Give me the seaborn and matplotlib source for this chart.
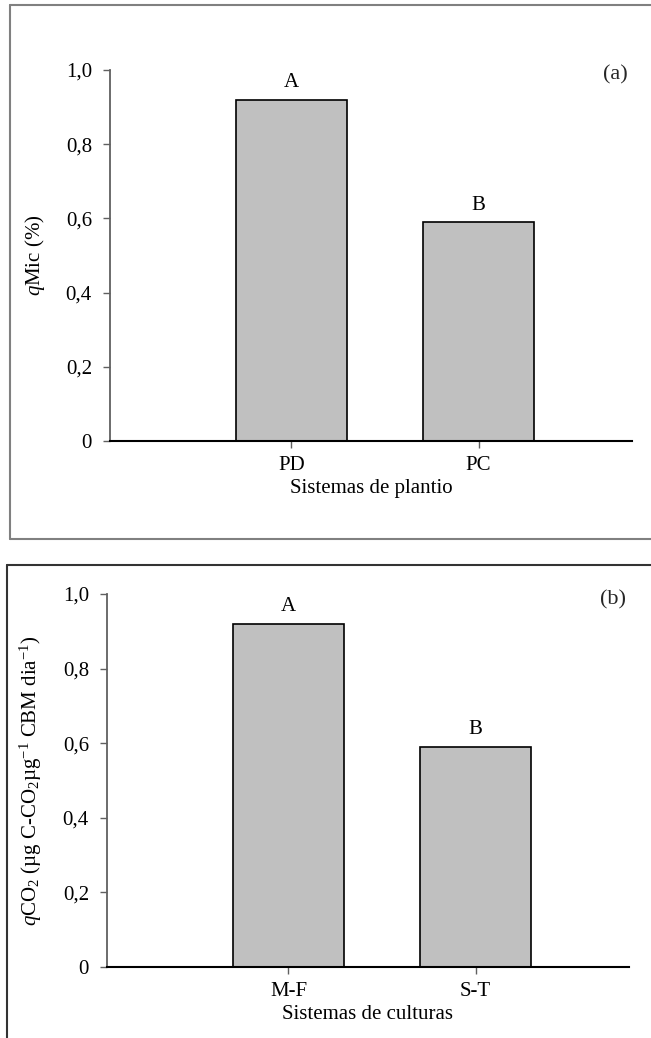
import matplotlib
matplotlib.use("Agg")
import matplotlib.pyplot as plt
import seaborn as sns
import pandas as pd
from matplotlib.lines import Line2D

# ---- data ----
cats_a = ["PD", "PC"]
vals_a = [0.92, 0.59]
letters_a = ["A", "B"]

cats_b = ["M-F", "S-T"]
vals_b = [0.92, 0.59]
letters_b = ["A", "B"]

yticks = [0, 0.2, 0.4, 0.6, 0.8, 1.0]
ytick_labels = ["0", "0,2", "0,4", "0,6", "0,8", "1,0"]

xlabel_a = "Sistemas de plantio"
xlabel_b = "Sistemas de culturas"
ylabel_a = r"$\it{q}$Mic (%)"
ylabel_b = r"$\it{q}$CO$_2$ (µg C-CO$_2$µg$^{\mathrm{-1}}$ CBM dia$^{\mathrm{-1}}$)"

# ---- style ----
sns.set_theme(style="white")
plt.rcParams["font.family"] = ["Liberation Serif", "DejaVu Serif"]
plt.rcParams["mathtext.fontset"] = "custom"
plt.rcParams["mathtext.rm"] = "Liberation Serif"
plt.rcParams["mathtext.it"] = "Liberation Serif:italic"
plt.rcParams["mathtext.bf"] = "Liberation Serif:bold"

FS = 15
W, H = 651, 1038
fig = plt.figure(figsize=(W / 100, H / 100), dpi=100)
fig.patch.set_facecolor("white")

ax1 = fig.add_axes([110 / W, 1 - 441 / H, 522 / W, 371 / H])
ax2 = fig.add_axes([107 / W, 1 - 967 / H, 522 / W, 373 / H])

panels = [
    (ax1, cats_a, vals_a, letters_a, xlabel_a, ylabel_a),
    (ax2, cats_b, vals_b, letters_b, xlabel_b, ylabel_b),
]

for ax, cats, vals, letters, xl, yl in panels:
    df = pd.DataFrame({"cat": cats, "val": vals})
    sns.barplot(data=df, x="cat", y="val", color="#c0c0c0", saturation=1,
                edgecolor="black", linewidth=1.2, width=0.59, ax=ax)
    ax.set_xlim(-0.97, 1.82)
    ax.set_ylim(0, 1.0)
    ax.set_yticks(yticks)
    ax.set_yticklabels(ytick_labels)
    for s in ["top", "right"]:
        ax.spines[s].set_visible(False)
    ax.spines["left"].set_color("#606060")
    ax.spines["left"].set_linewidth(1.3)
    ax.spines["bottom"].set_color("black")
    ax.spines["bottom"].set_linewidth(1.5)
    ax.tick_params(axis="y", left=True, direction="out", length=5, width=1.0,
                   color="#606060", labelsize=FS, pad=8, labelcolor="black")
    ax.tick_params(axis="x", bottom=True, direction="out", length=5, width=1.0,
                   color="#606060", labelsize=FS, pad=6, labelcolor="black")
    ax.set_xlabel(xl, fontsize=FS, labelpad=3, color="black")
    ax.set_ylabel(yl, fontsize=FS, color="black")
    ax.yaxis.set_label_coords(-0.12, 0.5)
    for i, (v, l) in enumerate(zip(vals, letters)):
        ax.text(i, v + 0.02, l, ha="center", va="bottom", fontsize=FS, color="black")

fig.text(615 / W, 1 - 75 / H, "(a)", ha="center", va="center", fontsize=16)
fig.text(613 / W, 1 - 600 / H, "(b)", ha="center", va="center", fontsize=16)

# panel frames
def fline(x, y, color, lw=1.5):
    fig.add_artist(Line2D([v / W for v in x], [1 - v / H for v in y],
                          color=color, lw=lw, transform=fig.transFigure))

fline([10, W], [5, 5], "#808080")
fline([10, 10], [5, 539], "#808080")
fline([10, W], [539, 539], "#808080")
fline([7, W], [565, 565], "#333333")
fline([7, 7], [565, H], "#333333")

fig.savefig("out.png", dpi=100, facecolor="white")
